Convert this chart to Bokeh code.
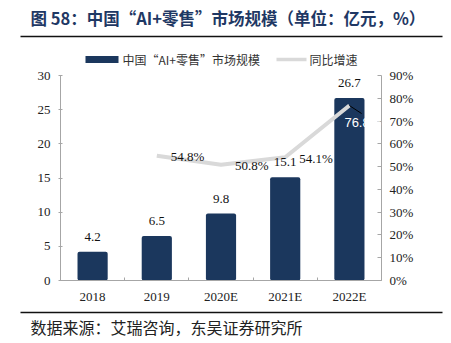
from bokeh.plotting import figure
from bokeh.layouts import column, row
from bokeh.models import (Range1d, LinearAxis, FixedTicker, NumeralTickFormatter,
                          ColumnDataSource, LabelSet, Label)
from bokeh.core.properties import value
from bokeh.embed import file_html
from bokeh.resources import INLINE

categories = ["2018", "2019", "2020E", "2021E", "2022E"]
market_size = [4.2, 6.5, 9.8, 15.1, 26.7]
growth_categories = ["2019", "2020E", "2021E", "2022E"]
growth = [0.548, 0.508, 0.541, 0.768]
left_ticks = [0, 5, 10, 15, 20, 25, 30]
right_ticks = [0.0, 0.1, 0.2, 0.3, 0.4, 0.5, 0.6, 0.7, 0.8, 0.9]

title_text = "图 58：中国“AI+零售”市场规模（单位：亿元，%）"
source_text = "数据来源：艾瑞咨询，东吴证券研究所"
bar_name = "中国“AI+零售”市场规模"
line_name = "同比增速"

NAVY = "#1B375D"
TITLE_COLOR = "#1F3864"
GRAY_LINE = "#D9D9D9"
AXIS_GRAY = "#A6A6A6"
RULE = "#111111"
CJK = "Noto Sans CJK SC"

W = 451
FL, FR, FT, FB = 60, 381, 75, 280  # plot frame in page pixels
HEAD = 66      # header band: title, rule, legend
FOOT = 308     # start of footer band


def strip(y0, y1, width=W):
    f = figure(width=width, height=y1 - y0, output_backend="svg", toolbar_location=None,
               x_range=Range1d(0, width), y_range=Range1d(y1, y0), min_border=0, title=None,
               x_axis_type=None, y_axis_type=None, frame_align=False)
    f.grid.visible = False
    f.outline_line_color = None
    f.background_fill_color = "white"
    f.border_fill_color = "white"
    return f


# ---------- header ----------
top = strip(0, HEAD)
top.quad(left=[20], right=[442], top=[35.3], bottom=[36.8], fill_color=RULE, line_color=None)
top.text(x=[30], y=[17], text=[title_text], text_align="left", text_baseline="middle",
         text_font=value(CJK), text_font_size="16.5px", text_font_style="bold",
         text_color=TITLE_COLOR)
top.quad(left=[85], right=[118], top=[55.5], bottom=[62.5], fill_color=NAVY, line_color=None)
top.text(x=[122], y=[58.5], text=[bar_name], text_align="left", text_baseline="middle",
         text_font=value(CJK), text_font_size="12px", text_color="#333333")
top.quad(left=[276], right=[306], top=[57.2], bottom=[60.8], fill_color=GRAY_LINE,
         line_color=None)
top.text(x=[309], y=[58.5], text=[line_name], text_align="left", text_baseline="middle",
         text_font=value(CJK), text_font_size="12px", text_color="#333333")

# ---------- chart ----------
p = figure(width=W, height=FOOT - HEAD, title=None, output_backend="svg",
           toolbar_location=None, x_range=Range1d(-0.5, 4.5), y_range=Range1d(0, 30),
           frame_align=False, min_border_left=FL, min_border_right=W - FR,
           min_border_top=FT - HEAD, min_border_bottom=FOOT - FB)
p.outline_line_color = None
p.xgrid.visible = False
p.ygrid.visible = False
p.background_fill_color = "white"
p.border_fill_color = "white"
p.extra_y_ranges = {"pct": Range1d(0, 0.9)}

xidx = list(range(len(categories)))
gidx = [categories.index(c) for c in growth_categories]

src = ColumnDataSource(dict(x=xidx, y=market_size, t=[f"{v:.1f}" for v in market_size]))
bars = p.vbar(x="x", top="y", width=0.47, source=src, fill_color=NAVY, line_color=None,
              border_radius=2)

gsrc = ColumnDataSource(dict(x=gidx, y=growth, t=[f"{v*100:.1f}%" for v in growth]))
line = p.line(x="x", y="y", source=gsrc, y_range_name="pct", line_color=GRAY_LINE,
              line_width=4)

# leader line for last growth label
p.segment(x0=[gidx[-1]], y0=[growth[-1]], x1=[gidx[-1] + 0.19], y1=[growth[-1] - 0.035],
          y_range_name="pct", line_color="black", line_width=1)

xa = p.xaxis[0]
xa.ticker = FixedTicker(ticks=xidx, minor_ticks=[i - 0.5 for i in xidx] + [xidx[-1] + 0.5])
xa.major_label_overrides = {i: c for i, c in enumerate(categories)}
xa.major_tick_in = 0
xa.major_tick_out = 0
xa.minor_tick_in = 3
xa.minor_tick_out = 0
xa.minor_tick_line_color = AXIS_GRAY
xa.axis_line_color = AXIS_GRAY
xa.major_label_text_font = "Liberation Serif"
xa.major_label_text_font_size = "13px"
xa.major_label_text_color = "#222222"
xa.major_label_standoff = 8

ya = p.yaxis[0]
ya.ticker = FixedTicker(ticks=left_ticks)
ya.axis_line_color = AXIS_GRAY
ya.major_tick_line_color = AXIS_GRAY
ya.major_tick_in = 2
ya.major_tick_out = 2
ya.minor_tick_line_color = None
ya.major_label_text_font = "Liberation Serif"
ya.major_label_text_font_size = "13px"
ya.major_label_text_color = "#222222"
ya.major_label_standoff = 8

ra = LinearAxis(y_range_name="pct", ticker=FixedTicker(ticks=right_ticks),
                formatter=NumeralTickFormatter(format="0%"))
ra.axis_line_color = AXIS_GRAY
ra.major_tick_line_color = AXIS_GRAY
ra.major_tick_in = 4
ra.major_tick_out = 0
ra.minor_tick_line_color = None
ra.major_label_text_font = "Liberation Serif"
ra.major_label_text_font_size = "13px"
ra.major_label_text_color = "#222222"
ra.major_label_standoff = 8
p.add_layout(ra, "right")

p.add_layout(LabelSet(x="x", y="y", text="t", source=src, text_align="center",
                      text_baseline="middle", y_offset=15, text_font="Liberation Sans",
                      text_font_size="13px", text_color="#111111"))

gsrc_a = ColumnDataSource(dict(x=gidx[:-1], y=growth[:-1],
                               t=[f"{v*100:.1f}%" for v in growth[:-1]]))
p.add_layout(LabelSet(x="x", y="y", text="t", source=gsrc_a, y_range_name="pct",
                      text_align="left", text_baseline="middle", x_offset=14, y_offset=-1,
                      text_font="Liberation Sans", text_font_size="13px",
                      text_color="#111111"))
p.add_layout(Label(x=gidx[-1], y=growth[-1], y_range_name="pct",
                   text=f"{growth[-1]*100:.1f}%", text_align="left", text_baseline="middle",
                   x_offset=-5, y_offset=-17, text_font="Liberation Sans",
                   text_font_size="13px", text_color="white"))

# ---------- footer ----------
bot = strip(FOOT, 343)
bot.quad(left=[20], right=[442], top=[311.3], bottom=[312.8], fill_color=RULE,
         line_color=None)
bot.text(x=[30], y=[326], text=[source_text], text_align="left", text_baseline="middle",
         text_font=value(CJK), text_font_size="16px", text_color="#222222")

layout = column(row(top, spacing=0), row(p, spacing=0), row(bot, spacing=0), spacing=0)
open("out.html", "w").write(file_html(layout, INLINE))
